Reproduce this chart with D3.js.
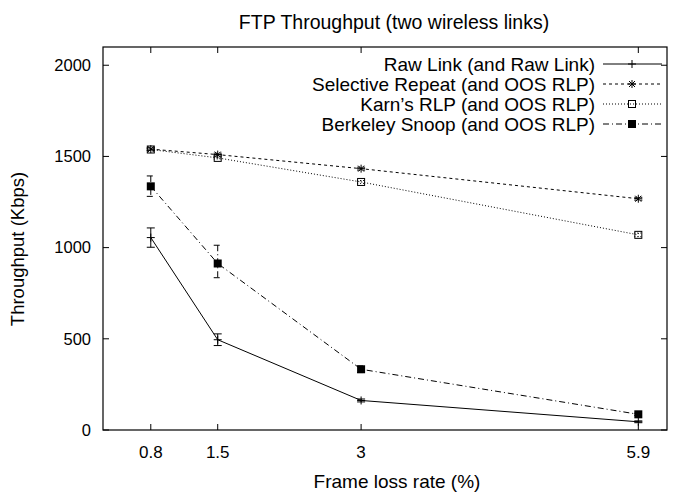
<!DOCTYPE html>
<html>
<head>
<meta charset="utf-8">
<script src="https://cdn.jsdelivr.net/npm/d3@7"></script>
<style>
  body { margin: 0; background: #fff; }
  text { font-family: "Liberation Sans", Arial, sans-serif; fill: #000; }
</style>
</head>
<body>
<svg id="chart" width="681" height="495"></svg>
<script>
// frame loss rate (%)
var lossRates = [0.8, 1.5, 3, 5.9];
var yTicks = [0, 500, 1000, 1500, 2000];

var rawLink   = [1055, 495, 162, 45];
var rawErr    = [53, 32, 8, 5];
var selRepeat = [1540, 1510, 1433, 1268];
var selErr    = [8, 8, 8, 8];
var karnRlp   = [1538, 1492, 1360, 1070];
var karnErr   = [6, 6, 8, 10];
var snoop     = [1336, 913, 333, 86];
var snoopHi   = [57, 100, 18, 6];
var snoopLo   = [55, 78, 18, 6];

var seriesNames = ["Raw Link (and Raw Link)", "Selective Repeat (and OOS RLP)",
                   "Karn\u2019s RLP (and OOS RLP)", "Berkeley Snoop (and OOS RLP)"];

var svg = d3.select("#chart"),
    margin = {left: 103, right: 14, top: 47, bottom: 65},
    width = +svg.attr("width"),
    height = +svg.attr("height");

var x = d3.scaleLinear().domain([0.3, 6.2]).range([margin.left, width - margin.right]);
var y = d3.scaleLinear().domain([0, 2100]).range([height - margin.bottom, margin.top]);

var series = [
  {name: seriesNames[0], vals: rawLink, hi: rawErr, lo: rawErr, dash: null, mark: "plus"},
  {name: seriesNames[1], vals: selRepeat, hi: selErr, lo: selErr, dash: "3,3", mark: "star"},
  {name: seriesNames[2], vals: karnRlp, hi: karnErr, lo: karnErr, dash: "1,2", mark: "box"},
  {name: seriesNames[3], vals: snoop, hi: snoopHi, lo: snoopLo, dash: "6,3,1,3", mark: "fbox"}
];

var x0 = x.range()[0], x1 = x.range()[1], y0 = y.range()[0], y1 = y.range()[1];

// ticks (inward, mirrored)
var tk = svg.append("g").attr("stroke", "#000").attr("stroke-width", 1);
yTicks.forEach(function(v) {
  tk.append("line").attr("x1", x0).attr("x2", x0 + 6).attr("y1", y(v)).attr("y2", y(v));
  tk.append("line").attr("x1", x1).attr("x2", x1 - 6).attr("y1", y(v)).attr("y2", y(v));
});
lossRates.forEach(function(v) {
  tk.append("line").attr("x1", x(v)).attr("x2", x(v)).attr("y1", y0).attr("y2", y0 - 6);
  tk.append("line").attr("x1", x(v)).attr("x2", x(v)).attr("y1", y1).attr("y2", y1 + 6);
});

svg.append("g").selectAll("text").data(yTicks).enter().append("text")
    .attr("x", x0 - 12).attr("y", function(d) { return y(d); }).attr("dy", "0.35em")
    .attr("text-anchor", "end").style("font-size", "16.5px").text(function(d) { return d; });

svg.append("g").selectAll("text").data(lossRates).enter().append("text")
    .attr("x", function(d) { return x(d); }).attr("y", 458)
    .attr("text-anchor", "middle").style("font-size", "17px").text(function(d) { return d; });

svg.append("text").attr("x", (x0 + x1) / 2 + 12).attr("y", 488).attr("text-anchor", "middle")
    .style("font-size", "19px").text("Frame loss rate (%)");
svg.append("text").attr("transform", "translate(24,249) rotate(-90)").attr("text-anchor", "middle")
    .style("font-size", "18.5px").text("Throughput (Kbps)");
svg.append("text").attr("x", 394).attr("y", 29).attr("text-anchor", "middle")
    .style("font-size", "19.5px").text("FTP Throughput (two wireless links)");

function marker(g, kind, cx, cy) {
  var s = 4;
  if (kind === "plus") {
    g.append("path").attr("d", "M" + (cx - s) + "," + cy + "H" + (cx + s) + "M" + cx + "," + (cy - s) + "V" + (cy + s))
      .attr("stroke", "#000").attr("fill", "none");
  } else if (kind === "star") {
    g.append("path").attr("d", "M" + (cx - s) + "," + cy + "H" + (cx + s) + "M" + cx + "," + (cy - s) + "V" + (cy + s) +
        "M" + (cx - 3) + "," + (cy - 3) + "L" + (cx + 3) + "," + (cy + 3) + "M" + (cx - 3) + "," + (cy + 3) + "L" + (cx + 3) + "," + (cy - 3))
      .attr("stroke", "#000").attr("fill", "none");
  } else if (kind === "box") {
    g.append("rect").attr("x", cx - 3.5).attr("y", cy - 3.5).attr("width", 7).attr("height", 7)
      .attr("stroke", "#000").attr("fill", "none");
  } else {
    g.append("rect").attr("x", cx - 4).attr("y", cy - 4).attr("width", 8).attr("height", 8).attr("fill", "#000");
  }
}

var line = d3.line().x(function(d) { return x(d[0]); }).y(function(d) { return y(d[1]); });

series.forEach(function(s) {
  var g = svg.append("g");
  var pts = lossRates.map(function(r, i) { return [r, s.vals[i]]; });
  g.append("path").datum(pts).attr("d", line).attr("fill", "none").attr("stroke", "#000")
    .attr("stroke-width", 1).attr("stroke-dasharray", s.dash);
  // error bars
  lossRates.forEach(function(r, i) {
    var cx = x(r), top = y(s.vals[i] + s.hi[i]), bot = y(s.vals[i] - s.lo[i]);
    g.append("path").attr("d", "M" + cx + "," + top + "V" + bot +
        "M" + (cx - 4) + "," + top + "H" + (cx + 4) + "M" + (cx - 4) + "," + bot + "H" + (cx + 4))
      .attr("stroke", "#000").attr("fill", "none").attr("stroke-dasharray", s.dash);
    marker(g, s.mark, cx, y(s.vals[i]));
  });
});

// legend
var leg = svg.append("g");
series.forEach(function(s, i) {
  var ly = 64 + i * 20;
  leg.append("text").attr("x", 595).attr("y", ly).attr("dy", "0.35em").attr("text-anchor", "end")
    .style("font-size", "19px").text(s.name);
  leg.append("line").attr("x1", 603).attr("x2", 662).attr("y1", ly).attr("y2", ly)
    .attr("stroke", "#000").attr("stroke-dasharray", s.dash);
  marker(leg, s.mark, 632, ly);
});

// frame
svg.append("rect").attr("x", x0).attr("y", y1).attr("width", x1 - x0).attr("height", y0 - y1)
  .attr("fill", "none").attr("stroke", "#000").attr("stroke-width", 1.2);
</script>
</body>
</html>
